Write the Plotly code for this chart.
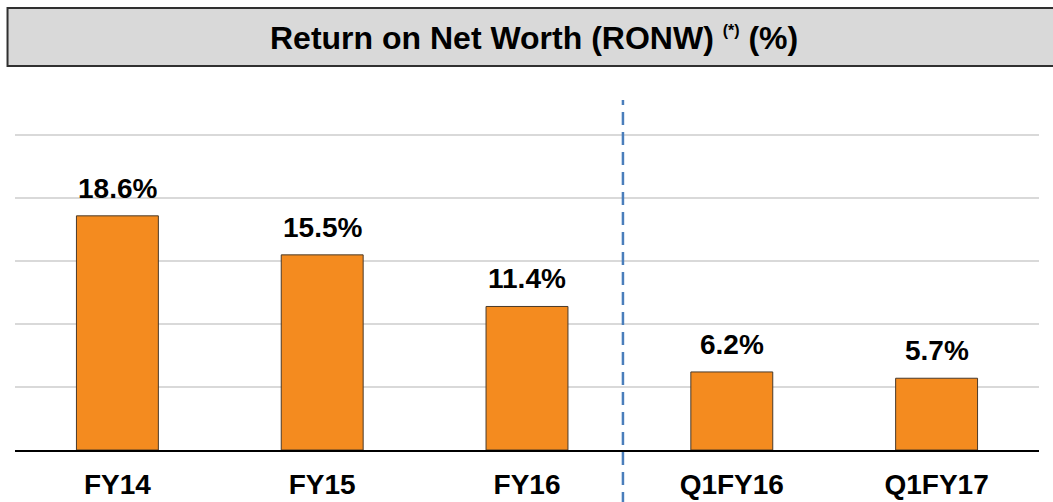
import plotly.graph_objects as go

categories = ["FY14", "FY15", "FY16", "Q1FY16", "Q1FY17"]
values = [18.6, 15.5, 11.4, 6.2, 5.7]
labels = ["18.6%", "15.5%", "11.4%", "6.2%", "5.7%"]
title_main = "Return on Net Worth (RONW)"
title_note = "(*)"
title_unit = "(%)"

FONT = "Liberation Sans, Arial, sans-serif"
TOP, PH = 100, 350  # plot top (px), plot height (px)


def py(px):
    """paper y for a pixel row (from top of figure)"""
    return 1 + (TOP - px) / PH


fig = go.Figure()
fig.add_trace(go.Bar(
    x=categories, y=values, width=0.4,
    marker=dict(color="#F48B1F", line=dict(color="#4a3a2a", width=1)),
    hoverinfo="skip",
))

for c, v, t in zip(categories, values, labels):
    fig.add_annotation(x=c, y=v, text=f"<b>{t}</b>", showarrow=False,
                       yanchor="bottom", yshift=10,
                       font=dict(family=FONT, size=28, color="#000000"))

# title box
fig.add_shape(type="rect", xref="paper", yref="paper",
              x0=-0.0073, x1=1.03, y0=py(66), y1=py(8),
              fillcolor="#d9d9d9", line=dict(color="#303030", width=2), layer="above")
fig.add_annotation(xref="paper", yref="paper", x=0.5068, y=py(38),
                   text=(f"<b>{title_main} <sup><span style='font-size:16px'>{title_note}</span></sup>"
                         f" {title_unit}</b>"),
                   showarrow=False, xanchor="center", yanchor="middle",
                   font=dict(family=FONT, size=32, color="#000000"))

# dashed separator
fig.add_shape(type="line", xref="paper", yref="paper",
              x0=0.5937, x1=0.5937, y0=py(505), y1=1.0,
              line=dict(color="#4a7ebb", width=2.5, dash="13px,7px"))

fig.update_layout(
    width=1053, height=502,
    margin=dict(l=15, r=14, t=TOP, b=502 - TOP - PH, autoexpand=False),
    paper_bgcolor="white", plot_bgcolor="white",
    showlegend=False, bargap=0.6,
    xaxis=dict(showline=True, linecolor="#000000", linewidth=1.5, automargin=False,
               ticks="outside", ticklen=9, tickcolor="rgba(0,0,0,0)",
               tickfont=dict(family=FONT, size=28, color="#000000"),
               tickprefix="<b>", ticksuffix="</b>", showgrid=False),
    yaxis=dict(range=[0, 27.8], dtick=5, showticklabels=False, automargin=False,
               showgrid=True, gridcolor="#d9d9d9", gridwidth=1.5,
               zeroline=False, showline=False),
)

fig.write_html("out.html", config={"displayModeBar": False},
               post_script="document.body.style.margin='0';")
